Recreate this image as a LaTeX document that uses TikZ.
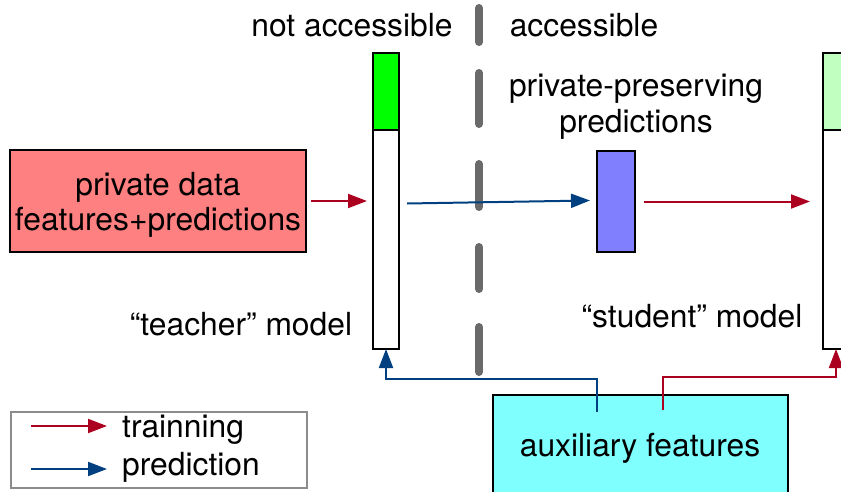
\documentclass[tikz,border=0pt]{standalone}
\usepackage{fontspec}
\setmainfont{TeX Gyre Heros}
\usetikzlibrary{arrows.meta}
\definecolor{trainred}{RGB}{172,0,32}
\definecolor{predblue}{RGB}{0,64,128}
\definecolor{dashgray}{RGB}{106,106,106}
\definecolor{legendgray}{RGB}{140,140,140}
\definecolor{pinkfill}{RGB}{255,128,128}
\definecolor{cyanfill}{RGB}{128,255,255}
\definecolor{purplefill}{RGB}{128,128,255}
\definecolor{lightgreen}{RGB}{192,255,192}
\begin{document}
\begin{tikzpicture}[x=1pt,y=-1pt,
  font=\fontsize{31.8}{35}\selectfont,
  box/.style={draw=black,line width=1.8pt,rectangle,inner sep=0pt,outer sep=0pt,anchor=north west},
  bar/.style={draw=black,line width=1.5pt,rectangle,inner sep=0pt,outer sep=0pt,anchor=north west,minimum width=26pt},
  lbl/.style={anchor=base,inner sep=0pt},
  trainarrow/.style={draw=trainred,line width=2pt,-{Triangle[length=19pt,width=14pt]}},
  predarrow/.style={draw=predblue,line width=2pt,-{Triangle[length=19pt,width=14pt]}},
  divider/.style={draw=dashgray,line width=8pt,line cap=round}
]
\useasboundingbox (0,0) rectangle (841,492);

% divider
\draw[divider] (479,8) -- (479,42);
\draw[divider] (479,73) -- (479,124);
\draw[divider] (479,164) -- (479,207);
\draw[divider] (479,247) -- (479,289);
\draw[divider] (479,327) -- (479,372);

% labels
\node[lbl] (na) at (352,37) {not accessible};
\node[lbl] (ac) at (584,37) {accessible};
\node[lbl] (ppl) at (636,97) {private-preserving};
\node[lbl] (ppl2) at (636,133) {predictions};
\node[lbl] (tl) at (241,335) {“teacher” model};
\node[lbl] (sl) at (692,327) {“student” model};

% private data
\node[box,fill=pinkfill,minimum width=296pt,minimum height=102pt] (pd) at (10,150) {};
\node[lbl] (pdt1) at (158,195) {private data};
\node[lbl] (pdt2) at (158,230) {features+predictions};

% teacher bar
\node[bar,minimum height=296pt,fill=white] (teacher) at (373,53) {};
\node[bar,line width=2.5pt,fill=green,minimum height=77pt] (teachertop) at (373,53) {};

% student bar
\node[bar,minimum height=296pt,fill=white] (student) at (823,53) {};
\node[bar,line width=2.5pt,fill=lightgreen,minimum height=77pt] (studenttop) at (823,53) {};

% private-preserving predictions box
\node[box,fill=purplefill,minimum width=38pt,minimum height=101pt] (pp) at (597,151) {};

% auxiliary features
\node[box,fill=cyanfill,minimum width=295pt,minimum height=105pt] (aux) at (493,395) {};
\node[lbl] (auxt) at (640,456) {auxiliary features};

% connectors
\draw[trainarrow] ([xshift=5pt]pd.east) -- ([xshift=-6pt]teacher.west |- pd.east);
\draw[predarrow] ([xshift=8pt,yshift=-2pt]teacher.east |- pp.west) -- ([xshift=-7pt,yshift=1pt]pp.west);
\draw[trainarrow] ([xshift=9pt]pp.east) -- ([xshift=-13pt]student.west |- pp.east);
\draw[predarrow] ([xshift=-43.5pt,yshift=-17pt]aux.north) -- ++(0,-33) -| (teacher.south);
\draw[trainarrow] ([xshift=22.5pt,yshift=-15pt]aux.north) -- ++(0,-33) -| (student.south);

% legend
\node[draw=legendgray,line width=1.5pt,rectangle,anchor=north west,minimum width=296pt,minimum height=76pt,inner sep=0pt] (legend) at (10,411) {};
\coordinate (lr1) at (31,426);
\coordinate (lr2) at (107,426);
\coordinate (lb1) at (31,469);
\coordinate (lb2) at (107,469);
\draw[trainarrow] (lr1) -- (lr2);
\draw[predarrow] (lb1) -- (lb2);
\node[anchor=base west,inner sep=0pt] (lt1) at (122,437) {trainning};
\node[anchor=base west,inner sep=0pt] (lt2) at (122,475) {prediction};
\end{tikzpicture}
\end{document}
